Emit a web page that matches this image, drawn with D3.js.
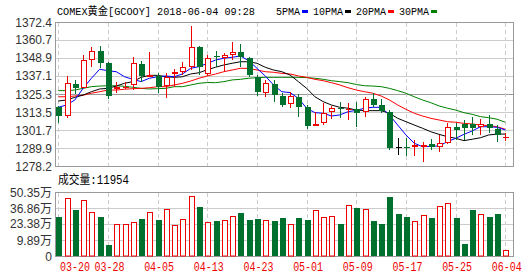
<!DOCTYPE html>
<meta charset="utf-8">

<!-- Load d3.js -->
<script src="https://d3js.org/d3.v7.min.js"></script>

<style>
  body { margin: 0; background: #fff; }
</style>

<!-- Create a div where the graph will take place -->
<div id="my_dataviz"></div>

<script>

// trading days on the chart
var dates = ["03-20","03-21","03-22","03-23","03-26","03-27","03-28","03-29","03-30",
  "04-02","04-03","04-04","04-05","04-06","04-09","04-10","04-11","04-12","04-13",
  "04-16","04-17","04-18","04-19","04-20","04-23","04-24","04-25","04-26","04-27","04-30",
  "05-01","05-02","05-03","05-04","05-07","05-08","05-09","05-10","05-11","05-14","05-15",
  "05-16","05-17","05-18","05-21","05-22","05-23","05-24","05-25","05-28","05-29","05-30",
  "05-31","06-01","06-04"];

var opens = [1316.6,1311.1,1331.8,1329.4,1347.4,1353.4,1345.4,1328.8,1329.5,1331.2,1344.9,1336.6,1337.1,1330.7,1338.2,1339.9,1343.2,1356.2,1338.2,1350.2,1349.1,1350.6,1352.6,1348.6,1336.6,1326.2,1331.8,1324.0,1318.6,1323.5,1316.6,1304.6,1306.1,1313.3,1315.9,1315.3,1315.3,1313.3,1321.8,1318.1,1313.7,1290.5,1290.9,1290.4,1290.6,1292.4,1290.6,1293.1,1303.9,1305.5,1305.5,1303.9,1305.5,1302.2,1297.0];
var highs = [1317.2,1337.1,1334.5,1350.8,1356.2,1356.9,1346.4,1333.0,1333.0,1349.3,1346.9,1352.8,1339.2,1339.2,1341.7,1346.0,1369.8,1356.9,1350.8,1353.6,1351.9,1359.3,1358.0,1349.3,1337.7,1334.5,1334.5,1326.2,1326.8,1325.3,1318.1,1313.7,1319.2,1317.5,1320.3,1319.2,1320.3,1323.5,1326.2,1321.8,1314.8,1296.3,1296.3,1295.2,1293.9,1295.9,1298.5,1306.5,1306.5,1308.3,1310.5,1308.7,1311.6,1305.0,1299.6];
var lows = [1306.5,1309.8,1325.3,1329.0,1343.2,1342.1,1321.8,1325.8,1328.4,1327.9,1333.4,1336.2,1326.2,1322.9,1330.1,1337.7,1341.0,1337.7,1337.1,1343.2,1339.9,1347.5,1343.2,1336.6,1324.0,1323.5,1320.3,1316.6,1315.9,1310.5,1302.4,1304.6,1305.0,1308.7,1309.4,1308.3,1303.9,1310.5,1316.6,1312.7,1288.7,1285.4,1284.7,1284.7,1281.0,1288.7,1287.2,1292.6,1295.2,1295.2,1298.5,1298.5,1299.6,1293.7,1294.8];
var closes = [1311.1,1332.3,1329.4,1347.4,1353.2,1345.4,1324.0,1330.1,1329.9,1345.4,1337.1,1337.5,1330.1,1336.6,1339.5,1342.8,1356.2,1343.2,1348.6,1349.3,1350.8,1352.6,1349.3,1337.7,1326.8,1332.7,1324.6,1318.1,1324.0,1316.6,1304.4,1305.7,1312.7,1315.9,1315.3,1315.7,1313.1,1321.8,1318.1,1314.2,1290.2,1290.5,1290.5,1291.7,1291.7,1290.6,1293.1,1303.5,1301.7,1302.9,1302.9,1305.5,1303.3,1298.5,1297.4];

// volume, in 万 (10k contracts)
var volumes = [28.9,45.1,35.3,43.7,33.4,28.9,6.0,23.6,23.6,25.0,27.8,33.4,27.0,35.9,22.8,27.6,47.1,38.1,25.0,26.1,27.0,30.3,32.8,27.0,27.8,26.7,26.1,28.6,23.6,28.6,27.0,35.3,29.2,30.3,23.6,39.5,37.0,35.9,26.1,23.6,46.5,32.0,29.5,25.9,31.2,28.6,38.7,41.0,28.6,6.9,35.3,32.0,29.5,31.4,1.1954];

// moving averages as drawn
var ma5 = [1316.6,1318.1,1321.4,1329.0,1335.6,1341.5,1340.5,1339.9,1336.6,1334.9,1333.4,1335.6,1336.6,1337.1,1336.6,1338.4,1342.1,1343.2,1345.3,1347.5,1348.7,1349.3,1350.2,1347.1,1342.1,1337.1,1331.2,1326.8,1326.2,1322.5,1316.0,1313.1,1312.7,1310.9,1311.6,1313.7,1314.6,1316.0,1316.6,1316.6,1311.6,1305.0,1298.5,1293.1,1290.8,1291.1,1291.3,1294.1,1296.3,1298.9,1301.1,1303.9,1303.9,1303.5,1301.8];
var ma10 = [1320.7,1321.4,1323.1,1324.6,1326.8,1328.6,1329.0,1330.5,1332.3,1333.4,1336.2,1337.5,1337.5,1336.6,1336.2,1336.6,1338.4,1339.2,1341.2,1342.8,1344.3,1345.4,1346.4,1346.4,1345.4,1342.8,1341.0,1339.9,1337.7,1333.4,1329.0,1323.5,1320.3,1318.1,1316.6,1316.0,1314.8,1314.4,1314.4,1314.4,1312.7,1309.4,1307.2,1305.0,1302.9,1300.6,1298.9,1297.4,1296.3,1294.8,1295.7,1296.7,1298.5,1299.1,1299.1];
var ma20 = [1323.5,1323.5,1324.0,1324.5,1325.8,1326.8,1327.9,1327.9,1328.4,1328.8,1329.0,1329.4,1330.1,1330.1,1331.2,1332.3,1333.8,1335.6,1337.1,1338.4,1339.9,1341.0,1342.1,1342.1,1341.0,1339.9,1339.5,1338.8,1338.4,1337.1,1336.2,1334.9,1334.0,1332.7,1331.2,1329.4,1327.9,1326.8,1325.8,1324.0,1321.4,1318.1,1315.3,1312.7,1310.9,1309.4,1308.3,1307.2,1306.8,1306.1,1305.7,1305.0,1304.6,1303.9,1302.2];
var ma30 = [1327.5,1327.5,1327.9,1329.0,1330.1,1330.5,1330.7,1330.7,1330.3,1329.7,1329.0,1328.6,1328.8,1329.0,1330.1,1330.1,1331.2,1332.3,1332.8,1332.7,1333.4,1334.5,1334.9,1335.6,1336.0,1336.2,1336.2,1336.2,1336.2,1336.2,1336.0,1335.6,1334.9,1334.0,1333.4,1332.7,1331.5,1330.7,1330.5,1330.1,1329.0,1327.5,1325.8,1323.5,1321.4,1319.6,1317.5,1316.0,1314.8,1313.1,1312.0,1310.5,1309.8,1308.8,1306.8];

// ticks
var dateTicks = ["03-20","03-28","04-05","04-13","04-23","05-01","05-09","05-17","05-25","06-04"];
var priceTicks = [1278.2,1289.9,1301.7,1313.5,1325.3,1337.1,1348.9,1360.7,1372.4];
var volTicks = [-3.595,9.89,23.38,36.86,50.35];
var volTickLabels = ["0","9.89万","23.38万","36.86万","50.35万"];

var maNames = ["5PMA","10PMA","20PMA","30PMA"];
var maColors = ["#0000ff","#000000","#ff0000","#008000"];

var red = "#ee0000", green = "#00702e";
var mono = "'Liberation Mono','Noto Sans CJK SC',monospace";

// chart geometry
var width = 530, height = 276;
var left = 55, right = 513;
var top1 = 22, bottom1 = 166;
var top2 = 192, bottom2 = 256;

var svg = d3.select("#my_dataviz")
  .append("svg")
    .attr("width", width)
    .attr("height", height)
    .style("display", "block");

// scales
var x = d3.scalePoint()
  .domain(dates)
  .range([58.3, 505.3]);
var y = d3.scaleLinear()
  .domain([1278.2, 1372.4])
  .range([bottom1, top1]);
var yv = d3.scaleLinear()
  .domain([-3.595, 50.35])
  .range([bottom2, top2]);

function px(d) { return Math.round(x(d)) + 0.5; }

// horizontal grid, price panel
svg.append("g")
  .selectAll("line")
  .data(priceTicks)
  .enter().append("line")
    .attr("x1", left).attr("x2", right)
    .attr("y1", function(d) { return Math.round(y(d)) + 0.5; })
    .attr("y2", function(d) { return Math.round(y(d)) + 0.5; })
    .attr("stroke", function(d, i) { return (i == 0 || i == 4 || i == 8) ? "#999" : "#ccc"; })
    .attr("stroke-width", 1);

// horizontal grid, volume panel
svg.append("g")
  .selectAll("line")
  .data(volTicks)
  .enter().append("line")
    .attr("x1", left).attr("x2", right)
    .attr("y1", function(d) { return Math.round(yv(d)) + 0.5; })
    .attr("y2", function(d) { return Math.round(yv(d)) + 0.5; })
    .attr("stroke", function(d, i) { return (i == 0 || i == 4) ? "#999" : "#ccc"; });

// vertical dashed grid in both panels
[[top1, bottom1], [top2, bottom2]].forEach(function(r) {
  svg.append("g")
    .selectAll("line")
    .data(dateTicks)
    .enter().append("line")
      .attr("x1", px).attr("x2", px)
      .attr("y1", r[0] + 1).attr("y2", r[1])
      .attr("stroke", "#ccc")
      .attr("stroke-dasharray", "4,3");
  // side borders
  svg.append("line").attr("x1", left + 0.5).attr("x2", left + 0.5)
    .attr("y1", r[0]).attr("y2", r[1] + 1).attr("stroke", "#999");
  svg.append("line").attr("x1", right + 0.5).attr("x2", right + 0.5)
    .attr("y1", r[0]).attr("y2", r[1] + 1).attr("stroke", "#999");
});

// price labels
svg.append("g")
  .selectAll("text")
  .data(priceTicks)
  .enter().append("text")
    .attr("x", 52)
    .attr("y", function(d) { return y(d) + 4.5; })
    .attr("text-anchor", "end")
    .attr("font-family", "'Liberation Sans',Arial,sans-serif")
    .attr("font-size", 12)
    .attr("fill", "#333")
    .text(function(d) { return d.toFixed(1); });

// volume labels
svg.append("g")
  .selectAll("text")
  .data(volTicks)
  .enter().append("text")
    .attr("x", 52)
    .attr("y", function(d) { return yv(d) + 4.5; })
    .attr("text-anchor", "end")
    .attr("font-family", "'Liberation Sans','Noto Sans CJK SC',sans-serif")
    .attr("font-size", 12)
    .attr("fill", "#333")
    .text(function(d, i) { return volTickLabels[i]; });

// date labels
svg.append("g")
  .selectAll("text")
  .data(dateTicks)
  .enter().append("text")
    .attr("x", function(d, i) { return i == 0 ? 60 : x(d) - 13.5; })
    .attr("y", 271)
    .attr("font-family", mono)
    .attr("font-size", 12)
    .attr("textLength", 30)
    .attr("lengthAdjust", "spacingAndGlyphs")
    .attr("fill", red)
    .text(function(d) { return d; });

// table of candles
var candles = dates.map(function(d, i) {
  return {date: d, o: opens[i], h: highs[i], l: lows[i], c: closes[i], v: volumes[i]};
});
function candleColor(d) { return d.c > d.o ? red : (d.c < d.o ? green : "#000"); }

// moving average lines
var maSeries = [ma5, ma10, ma20, ma30];
var line = d3.line()
  .x(function(d, i) { return x(dates[i]); })
  .y(function(d) { return y(d); });
svg.append("g")
  .selectAll("path")
  .data(maSeries.slice().reverse())
  .enter().append("path")
    .attr("d", line)
    .attr("fill", "none")
    .attr("stroke", function(d, i) { return maColors[3 - i]; })
    .attr("stroke-width", 1);

// candles: wick then body
var cg = svg.append("g")
  .selectAll("g")
  .data(candles)
  .enter().append("g");
cg.append("line")
  .attr("x1", function(d) { return px(d.date); })
  .attr("x2", function(d) { return px(d.date); })
  .attr("y1", function(d) { return Math.round(y(d.h)); })
  .attr("y2", function(d) { return Math.round(y(d.l)); })
  .attr("stroke", candleColor);
cg.append("rect")
  .attr("x", function(d) { return d.c > d.o ? px(d.date) - 2 : px(d.date) - 2.5; })
  .attr("width", function(d) { return d.c > d.o ? 5 : 6; })
  .attr("y", function(d) {
    var t = Math.round(y(Math.max(d.o, d.c)));
    return d.c > d.o ? t + 0.5 : t;
  })
  .attr("height", function(d) {
    var h = Math.round(y(Math.min(d.o, d.c))) - Math.round(y(Math.max(d.o, d.c)));
    return d.c > d.o ? Math.max(h - 1, 0.01) : Math.max(h, 1);
  })
  .attr("fill", function(d) { return d.c > d.o ? "#fff" : candleColor(d); })
  .attr("stroke", function(d) { return d.c > d.o ? red : "none"; })
  .attr("stroke-width", 1);

// volume bars
svg.append("g")
  .selectAll("rect")
  .data(candles)
  .enter().append("rect")
    .attr("x", function(d) { return d.c > d.o ? px(d.date) - 2 : px(d.date) - 2.5; })
    .attr("width", function(d) { return d.c > d.o ? 5 : 6; })
    .attr("y", function(d) { return d.c > d.o ? Math.round(yv(d.v)) + 0.5 : Math.round(yv(d.v)); })
    .attr("height", function(d) {
      var h = bottom2 - Math.round(yv(d.v));
      return d.c > d.o ? h - 0.5 : h;
    })
    .attr("fill", function(d) { return d.c > d.o ? "#fff" : green; })
    .attr("stroke", function(d) { return d.c > d.o ? red : "none"; });

// title
svg.append("text")
  .attr("x", 57)
  .attr("y", 15)
  .attr("font-family", mono)
  .attr("font-size", 11)
  .attr("textLength", 198)
  .attr("lengthAdjust", "spacingAndGlyphs")
  .attr("fill", "#000")
  .text("COMEX黄金[GCOOY] 2018-06-04 09:28");

// legend
var legX = [276, 313, 356, 399];
var leg = svg.append("g")
  .selectAll("g")
  .data(maNames)
  .enter().append("g");
leg.append("text")
  .attr("x", function(d, i) { return legX[i]; })
  .attr("y", 15)
  .attr("font-family", mono)
  .attr("font-size", 11)
  .attr("textLength", function(d) { return d.length * 6; })
  .attr("lengthAdjust", "spacingAndGlyphs")
  .attr("fill", "#000")
  .text(function(d) { return d; });
leg.append("rect")
  .attr("x", function(d, i) { return legX[i] + d.length * 6 + 2; })
  .attr("y", 10)
  .attr("width", 6)
  .attr("height", 3)
  .attr("fill", function(d, i) { return maColors[i]; });

// volume caption
svg.append("text")
  .attr("x", 58)
  .attr("y", 184)
  .attr("font-family", mono)
  .attr("font-size", 12)
  .attr("textLength", 71)
  .attr("lengthAdjust", "spacingAndGlyphs")
  .attr("fill", "#000")
  .text("成交量:" + Math.round(volumes[volumes.length - 1] * 10000));

</script>
